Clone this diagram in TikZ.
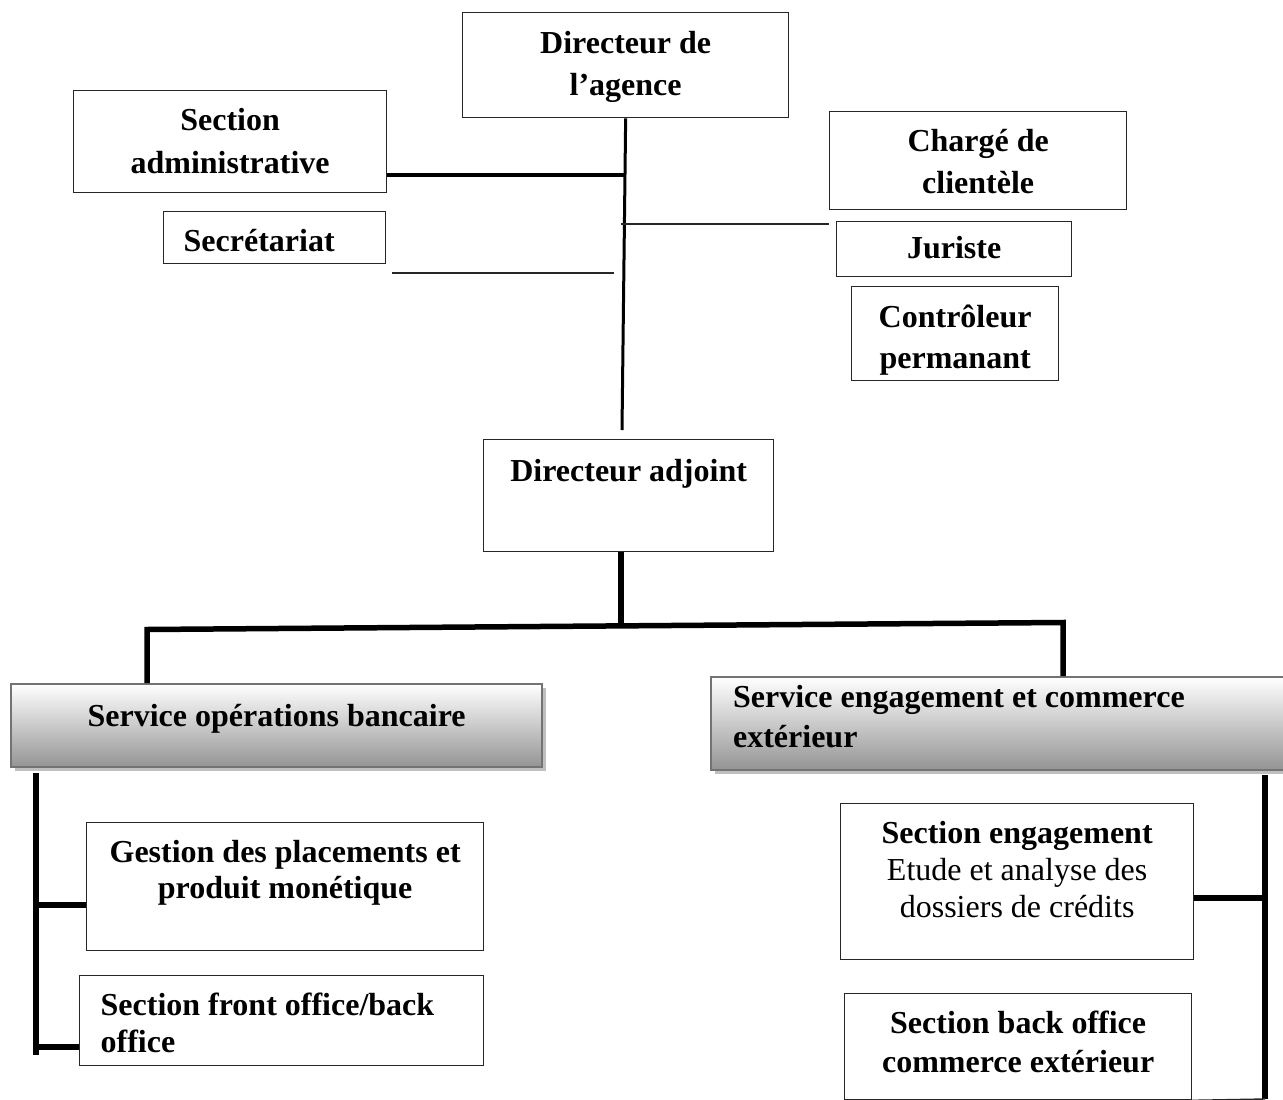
\documentclass[tikz,border=0pt]{standalone}
\usepackage{fontspec}
\setmainfont{Liberation Serif}
\usetikzlibrary{shadows}
\newcommand{\bx}[6]{\parbox[t][#2][t]{#1}{\fontsize{32}{#4}\selectfont#5\rule{0pt}{#3}#6}}
\tikzset{
  bxs/.style={draw=black!85, line width=1.3pt, inner sep=0pt, anchor=north west, fill=white},
  svc/.style={draw=black!55, line width=2.2pt, inner sep=0pt, anchor=north west,
    top color=white, bottom color=black!42,
    general shadow={fill=black!25, shadow xshift=3.5pt, shadow yshift=-3.5pt}},
  thinln/.style={line width=1.4pt, draw=black!85},
  midln/.style={line width=3pt},
  admln/.style={line width=4pt},
  thickln/.style={line width=5.5pt}
}
\begin{document}
\begin{tikzpicture}[x=1pt,y=-1pt]
\useasboundingbox (0,0) rectangle (1283,1100);
% top boxes
\node[bxs] (dir) at (462,12) {\bx{326pt}{105pt}{41pt}{42pt}{\centering\bfseries}{Directeur de\\ l’agence}};
\node[bxs] (adm) at (73,90) {\bx{313pt}{102pt}{40pt}{43pt}{\centering\bfseries}{Section\\ administrative}};
\node[bxs] (sec) at (163,211) {\bx{222pt}{52pt}{40pt}{42pt}{\raggedright\leftskip=20pt\relax\bfseries}{Secrétariat}};
\node[bxs] (chg) at (829,111) {\bx{297pt}{98pt}{40pt}{42pt}{\centering\bfseries}{Chargé de\\ clientèle}};
\node[bxs] (jur) at (836,221) {\bx{235pt}{55pt}{37pt}{42pt}{\centering\bfseries}{Juriste}};
\node[bxs] (ctl) at (851,286) {\bx{207pt}{94pt}{41pt}{41pt}{\centering\bfseries}{Contrôleur\\ permanant}};
\node[bxs] (adj) at (483,439) {\bx{290pt}{112pt}{42pt}{42pt}{\centering\bfseries}{Directeur adjoint}};
% service boxes
\node[svc] (svc1) at (10,683) {\bx{531pt}{83pt}{42pt}{40pt}{\centering\bfseries}{Service opérations bancaire}};
\node[svc] (svc2) at (710,676) {\bx{590pt}{93pt}{30pt}{40pt}{\raggedright\leftskip=22pt\relax\bfseries}{Service engagement et commerce\\ extérieur}};
% bottom boxes
\node[bxs] (gest) at (86,822) {\bx{397pt}{128pt}{40pt}{36pt}{\centering\bfseries}{Gestion des placements et\\ produit monétique}};
\node[bxs] (fo) at (79,975) {\bx{404pt}{90pt}{40pt}{37pt}{\raggedright\leftskip=21pt\relax\bfseries}{Section front office/back\\ office}};
\node[bxs] (se) at (840,803) {\bx{353pt}{156pt}{40pt}{37pt}{\centering}{\textbf{Section engagement}\\ Etude et analyse des\\ dossiers de crédits}};
\node[bxs] (bo) at (844,993) {\bx{347pt}{106pt}{40pt}{39pt}{\centering\bfseries}{Section back office\\ commerce extérieur}};
% upper connectors
\coordinate (mvE) at (622,430);
\draw[midln] (dir.south) -- (mvE);
\coordinate (jA) at (624.4,175);
\draw[admln] (adm.east |- jA) -- (jA);
\coordinate (jB) at (621,224);
\draw[thinln] (jB) -- (jB -| chg.west);
\coordinate (fl1) at (392,273);
\coordinate (fl2) at (614,273);
\draw[thinln] (fl1) -- (fl2);
% adjoint to services
\coordinate (bm) at (621,626);
\draw[thickln] (adj.south -| bm) -- (bm);
\coordinate (bl) at (147,629.5);
\coordinate (br) at (1063,622.5);
\draw[thickln, line join=miter] (bl |- svc1.north) -- (bl) -- (br) -- (br |- svc2.north);
% left branch
\coordinate (lt) at (36,773);
\coordinate (lb) at (36,1055);
\draw[thickln] (lt) -- (lb);
\coordinate (l1) at (36,905);
\draw[thickln] (l1) -- (l1 -| gest.west);
\coordinate (l2) at (36,1047);
\draw[thickln] (l2) -- (l2 -| fo.west);
% right branch
\coordinate (rt) at (1265,775);
\coordinate (rb) at (1265,1099);
\draw[thickln] (rt) -- (rb);
\coordinate (r1) at (1265,898);
\draw[thickln] (r1) -- (r1 -| se.east);
\draw[thinln] (bo.south east) -- (rb);
\end{tikzpicture}
\end{document}
